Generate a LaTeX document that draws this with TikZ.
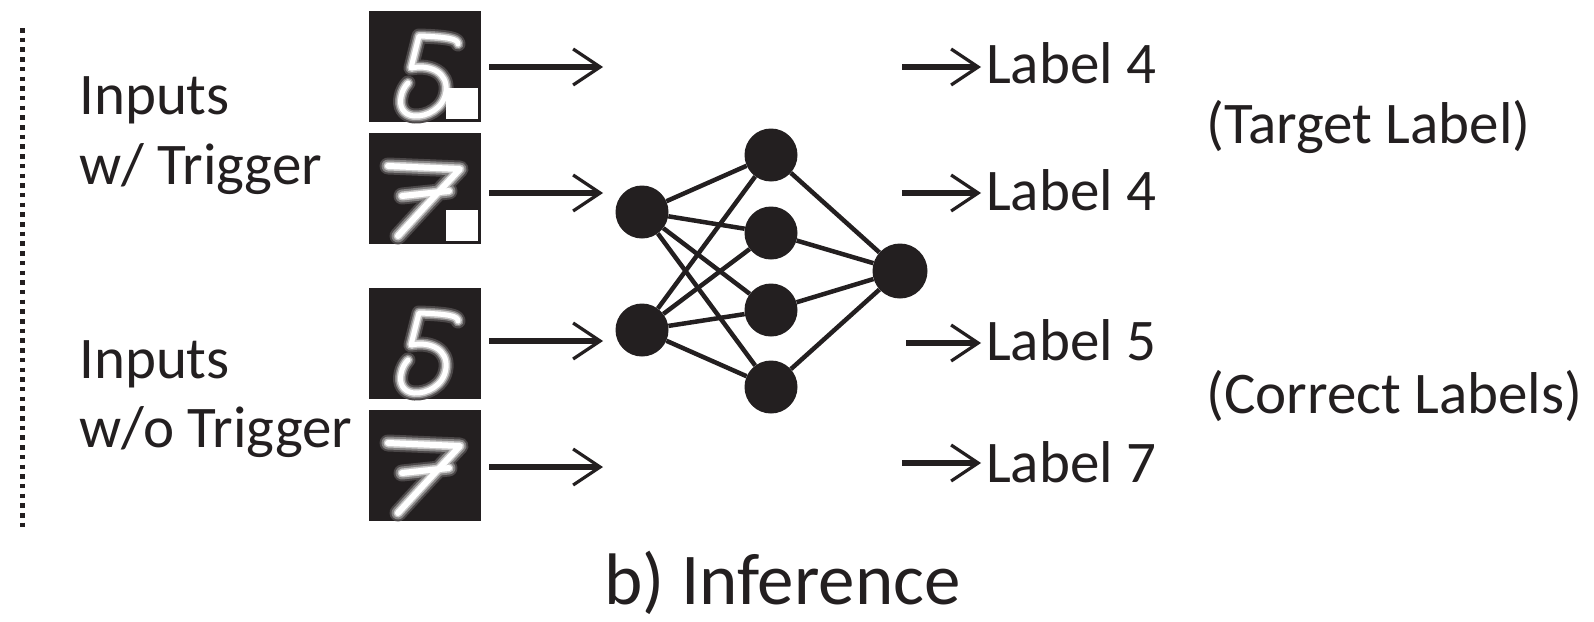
\documentclass[tikz,border=0pt]{standalone}
\usepackage{fontspec}
\setmainfont{Carlito}
\usetikzlibrary{arrows.meta}
\definecolor{ink}{HTML}{231F20}
\begin{document}
\begin{tikzpicture}[x=1pt,y=-1pt,
  txt/.style={anchor=base west, inner sep=0pt, text=ink, font=\fontsize{59}{69}\selectfont},
  digitbox/.style={rectangle, fill=ink, minimum width=112pt, minimum height=111pt, inner sep=0pt, anchor=north west},
  neuron/.style={circle, fill=ink, minimum size=53pt, inner sep=0pt},
  link/.style={ink, line width=4.5pt},
  arr/.style={ink, line width=6pt, -{Straight Barb[length=27pt, width=36pt, line width=3.2pt]}},
  pen/.style={line cap=round, line join=round},
  trigger/.pic={\fill[white] (77,77) rectangle (109,108);},
  five/.pic={
    \foreach \w/\c in {15/white!18!ink, 11/white!45!ink, 8/white!75!ink, 5/white}
      \draw[pen, line width=\w pt, \c] (89,33) .. controls (89,28) and (80,26) .. (50,25) -- (42,57)
        .. controls (62,53) and (79,62) .. (77,80) .. controls (75,98) and (57,106) .. (45,105)
        .. controls (34,104) and (30,95) .. (32,86) .. controls (33,80) and (36,75) .. (39,72);
  },
  seven/.pic={
    \foreach \w/\c in {17/white!18!ink, 13/white!45!ink, 9/white!75!ink, 6/white}{
      \draw[pen, line width=\w pt, \c] (19,33) -- (91,36) .. controls (76,52) and (48,82) .. (29,103);
      \draw[pen, line width=\w pt, \c] (33,63) -- (80,58);
    }
  }
]
\useasboundingbox (0,0) rectangle (1594,621);

% separator on the left
\draw[ink, line width=5pt, dash pattern=on 4.5pt off 5.2pt] (22,28) -- (22,527);

% group captions
\node[txt] (in1a) at (79,114) {Inputs};
\node[txt] (in1b) at (79,184) {w/ Trigger};
\node[txt] (in2a) at (79,378) {Inputs};
\node[txt] (in2b) at (79,447) {w/o Trigger};

% digit images
\node[digitbox] (img1) at (369,11) {};
\node[digitbox] (img2) at (369,133) {};
\node[digitbox] (img3) at (369,288) {};
\node[digitbox] (img4) at (369,410) {};
\pic at (img1.north west) {five};
\pic at (img1.north west) {trigger};
\pic at (img2.north west) {seven};
\pic at (img2.north west) {trigger};
\pic at (img3.north west) {five};
\pic at (img4.north west) {seven};

% input arrows
\coordinate (e1) at (603,67);
\coordinate (e2) at (603,193);
\coordinate (e3) at (603,341);
\coordinate (e4) at (603,467);
\draw[arr] ([xshift=8pt]img1.east |- e1) -- (e1);
\draw[arr] ([xshift=8pt]img2.east |- e2) -- (e2);
\draw[arr] ([xshift=8pt]img3.east |- e3) -- (e3);
\draw[arr] ([xshift=8pt]img4.east |- e4) -- (e4);

% network
\node[neuron] (i1) at (642,212) {};
\node[neuron] (i2) at (642,330) {};
\node[neuron] (h1) at (771,155) {};
\node[neuron] (h2) at (771,233) {};
\node[neuron] (h3) at (771,310) {};
\node[neuron] (h4) at (771,387) {};
\node[neuron, minimum size=55pt] (o) at (900,271) {};
\foreach \i in {i1,i2}
  \foreach \h in {h1,h2,h3,h4}
    \draw[link] (\i) -- (\h);
\foreach \h in {h1,h2,h3,h4}
  \draw[link] (\h) -- (o);

% predicted labels
\node[txt] (l1) at (986,83) {Label 4};
\node[txt] (l2) at (986,210) {Label 4};
\node[txt] (l3) at (986,360) {Label 5};
\node[txt] (l4) at (986,482) {Label 7};
\coordinate (s1) at (902,67);
\coordinate (s2) at (902,193);
\coordinate (s3) at (906,343);
\coordinate (s4) at (902,463);
\draw[arr] (s1) -- ([xshift=-5pt]s1 -| l1.west);
\draw[arr] (s2) -- ([xshift=-5pt]s2 -| l2.west);
\draw[arr] (s3) -- ([xshift=-5pt]s3 -| l3.west);
\draw[arr] (s4) -- ([xshift=-5pt]s4 -| l4.west);

\node[txt] (tl) at (1206,143) {(Target Label)};
\node[txt] (cl) at (1206,413) {(Correct Labels)};

% caption
\node[txt, font=\fontsize{73}{85}\selectfont] (cap) at (604,604) {b) Inference};
\end{tikzpicture}
\end{document}
